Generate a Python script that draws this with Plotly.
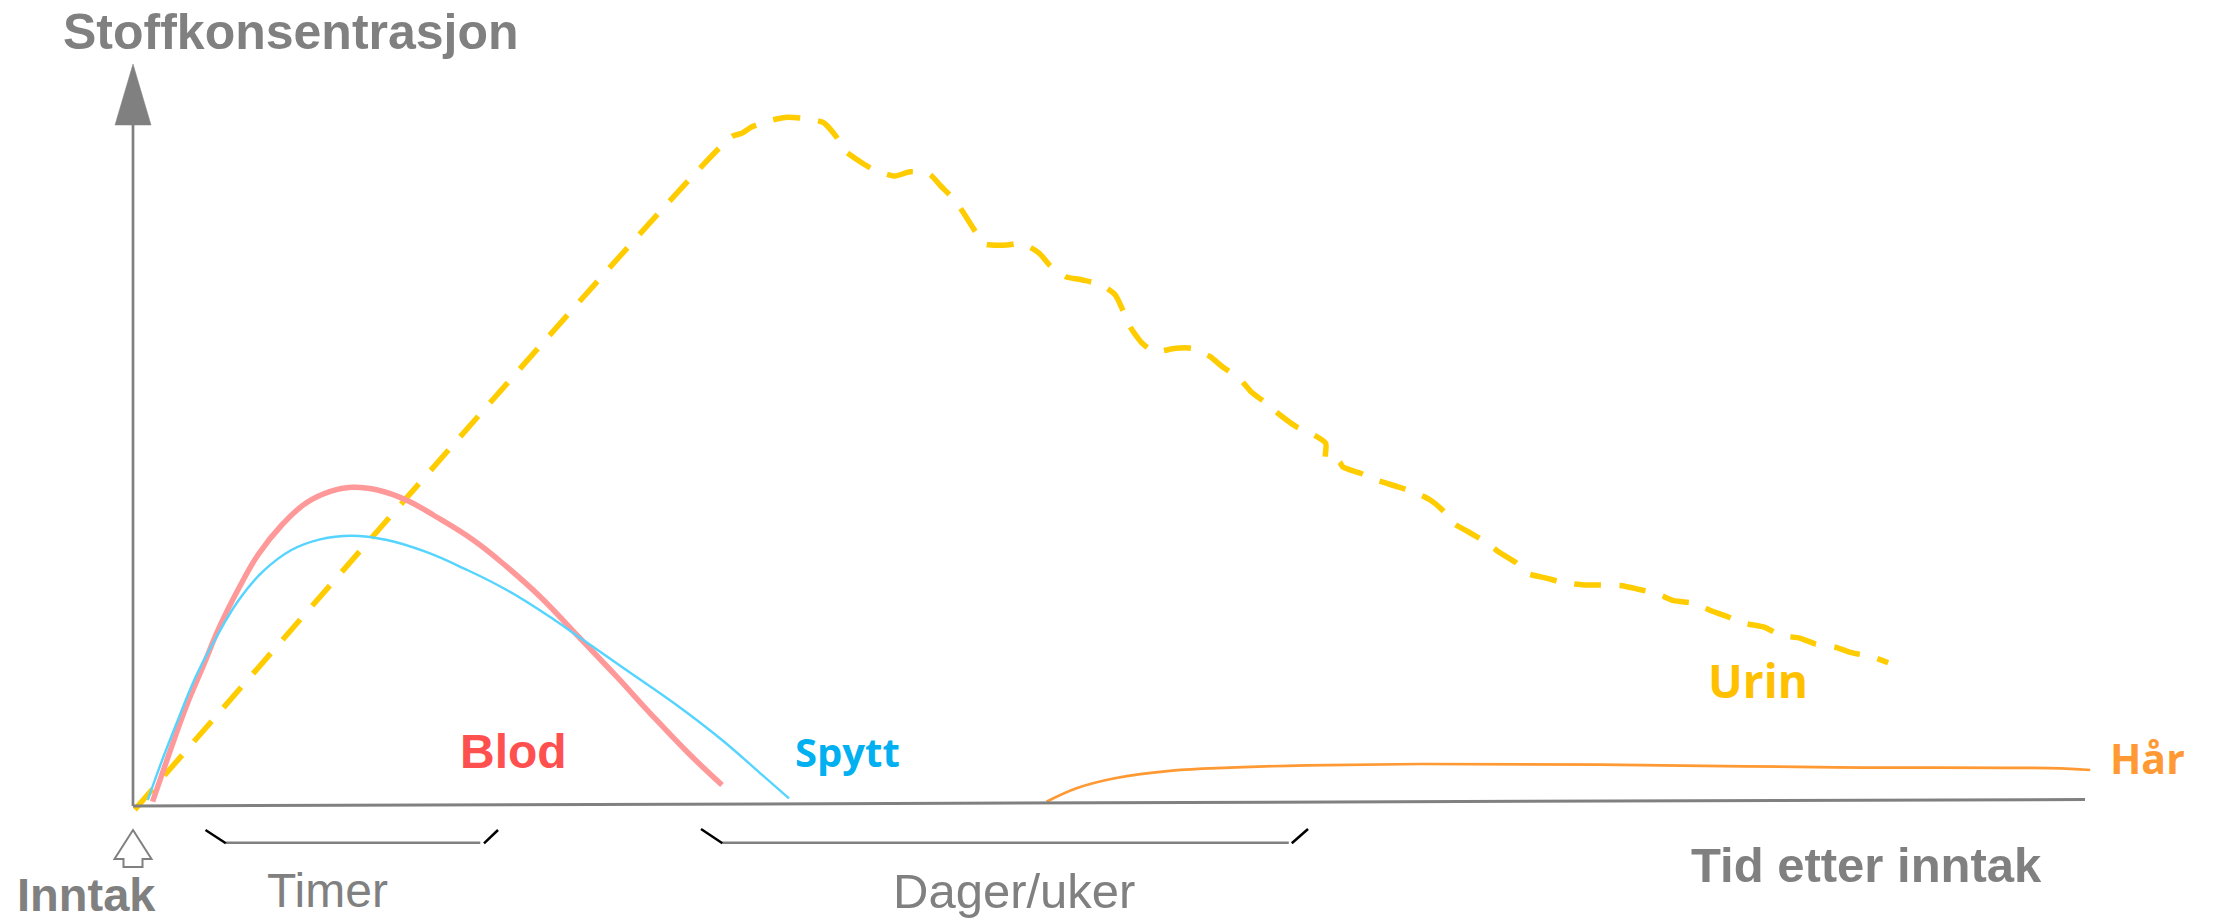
import plotly.graph_objects as go

# ---- data (arbitrary units: time after intake, concentration) ----
blod_t = [19.6, 34, 53.1, 69.9, 86.6, 105.8, 124.9, 148.8, 172.7, 196.7, 219.2, 244.5,
          273.2, 301.9, 340.2, 373.7, 407.2, 445.5, 483.7, 517.2, 555.5, 589]
blod_c = [4.3, 46, 99.3, 139.3, 179.3, 217.7, 251, 281, 302.7, 314.3, 318.7, 316,
          306, 290, 266, 239.3, 209.3, 169.3, 129.3, 92.7, 52.7, 21]

spytt_t = [14.8, 29.2, 43.6, 62.7, 81.8, 105.8, 129.7, 158.4, 187.1, 218.2, 254.1, 292.4,
           330.6, 373.7, 421.5, 445.5, 493.3, 541.2, 589, 627.3, 656]
spytt_c = [6, 46, 82.7, 129.3, 166, 206, 234.3, 256, 266.7, 270.3, 266, 254.3,
           237.7, 216, 186, 169.3, 136, 102.7, 66, 32.7, 7.7]

urin_t = [1.8, 598.6, 608.8, 619, 639.4, 654.8, 675.2, 690.5, 703.2, 710.9, 728.7, 741.5,
          761.9, 777.2, 796.6, 807.8, 821.6, 830.8, 842.5, 852.2, 874.1, 888.4, 906.3,
          917.5, 932.8, 949.7, 968.5, 982.3, 990.5, 998.1, 1009.3, 1021.1, 1042.5, 1058.8,
          1077.2, 1089.4, 1106.3, 1118, 1133.3, 1147.1, 1163.3, 1177.7, 1192.7, 1192.7,
          1206.2, 1209.9, 1227.8, 1242.9, 1262.5, 1277.6, 1297.2, 1309.4, 1321.7, 1335.6,
          1353.1, 1365.4, 1382.9, 1393.9, 1414.3, 1430.7, 1451.1, 1467.4, 1489, 1505.4,
          1524.6, 1540.9, 1561.3, 1576.4, 1596, 1611.5, 1631.9, 1647, 1667.4, 1682.5,
          1702.9, 1718.4, 1738.8, 1755.2]
urin_c = [-3.6, 669.3, 672.7, 679.3, 686, 688.7, 687, 683.3, 669.3, 656, 643.3, 636,
          630, 634.3, 631.7, 620, 606, 592.7, 574.3, 562, 561, 562.7, 552.7,
          540, 529.3, 526, 521, 511, 494.3, 477.7, 462.7, 454.3, 457.7, 457.7,
          449.3, 439.3, 427.7, 414.3, 402.7, 391, 379.3, 372.7, 362.7, 346,
          344.3, 339, 332.7, 326, 320, 315.3, 306, 296, 282, 274,
          263.7, 254.3, 243.3, 232.7, 227.7, 223.3, 221, 221, 220.3, 216.7,
          212, 205.3, 202.7, 196, 188.7, 182.7, 178.7, 171, 167.7, 162,
          158.7, 153.3, 149.3, 143.3]

haar_t = [913.5, 943.5, 981.8, 1039.2, 1096.6, 1173.2, 1288, 1467, 1702.3, 1927.8, 1957.2]
haar_c = [4.3, 17.7, 27.7, 35.3, 38.3, 40.7, 42, 41.3, 38.7, 37.7, 36]

# text labels
title_txt = "Stoffkonsentrasjon"
xlabel_txt = "Tid etter inntak"
intake_txt = "Inntak"
hours_txt = "Timer"
days_txt = "Dager/uker"
series_names = ["Blod", "Spytt", "Urin", "Hår"]

GRAY = "#808080"
OX, OY = 133, 806  # origin in picture pixels


def P(X, Y):
    return X - OX, OY - Y


fig = go.Figure()

fig.add_trace(go.Scatter(x=urin_t, y=urin_c, mode="lines",
                         line=dict(color="#FFCC00", width=5.5, dash="27px,18px",
                                   shape="spline", smoothing=0.6),
                         hoverinfo="skip"))
fig.add_trace(go.Scatter(x=haar_t, y=haar_c, mode="lines",
                         line=dict(color="#FF9933", width=2.7, shape="spline", smoothing=1.0),
                         hoverinfo="skip"))
fig.add_trace(go.Scatter(x=blod_t, y=blod_c, mode="lines",
                         line=dict(color="#FF9999", width=5.5, shape="spline", smoothing=1.2),
                         hoverinfo="skip"))
fig.add_trace(go.Scatter(x=spytt_t, y=spytt_c, mode="lines",
                         line=dict(color="#55D4FF", width=2.4, shape="spline", smoothing=1.2),
                         hoverinfo="skip"))

shapes = []


def line(a, b, color, w):
    x0, y0 = P(*a)
    x1, y1 = P(*b)
    shapes.append(dict(type="line", xref="x", yref="y", x0=x0, y0=y0, x1=x1, y1=y1,
                       line=dict(color=color, width=w), layer="above"))


def poly(pts, fill, color, w):
    cs = [P(*p) for p in pts]
    path = "M " + " L ".join(f"{x},{y}" for x, y in cs) + " Z"
    shapes.append(dict(type="path", xref="x", yref="y", path=path, fillcolor=fill,
                       line=dict(color=color, width=w), layer="above"))


# axes
line((133, 806), (133, 122), GRAY, 2.7)
line((133, 806), (2085, 799.5), GRAY, 3)
poly([(133, 64), (151, 125), (115, 125)], GRAY, GRAY, 0.5)
# intake arrow (hollow)
poly([(133, 830), (151.5, 859), (142.5, 859), (142.5, 867), (123.5, 867), (123.5, 859),
      (114.5, 859)], "white", GRAY, 2)
# brackets
line((225.8, 842.7), (480.3, 842.7), GRAY, 2.5)
line((205.5, 830), (225.8, 843.3), "black", 2.5)
line((484, 843.3), (498, 830), "black", 2.5)
line((722.4, 842.7), (1288.8, 842.7), GRAY, 2.5)
line((701, 829), (722.4, 843.3), "black", 2.5)
line((1291.8, 843.3), (1308, 829), "black", 2.5)

ann = []


def text(s, X, Y, size, color, bold=True, family="Liberation Sans, Arial, sans-serif",
         xanchor="center"):
    x, y = P(X, Y)
    ann.append(dict(x=x, y=y, xref="x", yref="y", text=f"<b>{s}</b>" if bold else s,
                    showarrow=False, xanchor=xanchor, yanchor="middle",
                    font=dict(size=size, color=color, family=family)))


text(title_txt, 61, 31.5, 50, GRAY, xanchor="left")
text(intake_txt, 15, 894, 47, GRAY, xanchor="left")
text(hours_txt, 327, 890.5, 48, GRAY, bold=False)
text(days_txt, 1013.7, 890.5, 49, GRAY, bold=False)
text(xlabel_txt, 1866.7, 865, 49, GRAY)
text(series_names[0], 513.5, 751.5, 48, "#FF5050")
text(series_names[1], 847, 751, 40, "#00B0F0", family="Open Sans, sans-serif")
text(series_names[2], 1758, 679.5, 46, "#FFC000", family="Open Sans, sans-serif")
text(series_names[3], 2147.7, 757.5, 41, "#FF9933", family="Open Sans, sans-serif")

fig.update_layout(
    width=2215, height=922,
    margin=dict(l=0, r=0, t=0, b=0),
    paper_bgcolor="white", plot_bgcolor="white",
    showlegend=False,
    xaxis=dict(range=[-OX, 2215 - OX], visible=False, fixedrange=True),
    yaxis=dict(range=[OY - 922, OY], visible=False, fixedrange=True),
    shapes=shapes, annotations=ann,
)

fig.write_html("out.html", config={"displayModeBar": False},
               post_script="document.body.style.margin='0';"
                           "document.body.style.overflow='hidden';"
                           "document.documentElement.style.overflow='hidden';")
